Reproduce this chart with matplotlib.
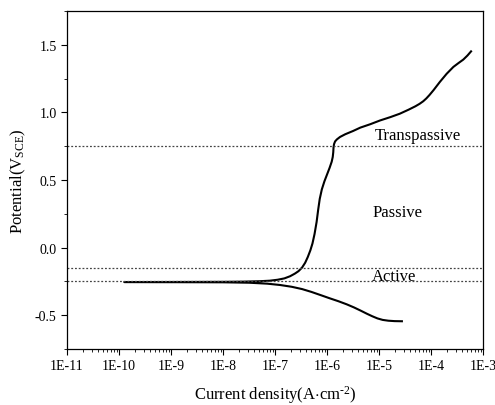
import numpy as np
import matplotlib
matplotlib.use("Agg")
import matplotlib.pyplot as plt
from matplotlib.ticker import LogLocator, MultipleLocator, NullFormatter, FormatStrFormatter

plt.rcParams['font.family'] = 'Liberation Serif'
plt.rcParams['mathtext.fontset'] = 'custom'
plt.rcParams['mathtext.rm'] = 'Liberation Serif'
plt.rcParams['mathtext.it'] = 'Liberation Serif:italic'
plt.rcParams['axes.unicode_minus'] = False

# cathodic branch, log10(i) vs E, from the far end back to Ecorr
cath_logi = [-4.56, -4.70, -4.82, -4.93, -5.03, -5.13, -5.23, -5.35, -5.48, -5.62,
             -5.78, -5.95, -6.12, -6.30, -6.48, -6.68, -6.9, -7.15, -7.5, -8.0,
             -9.0, -9.9]
cath_E = [-0.545, -0.544, -0.541, -0.535, -0.524, -0.508, -0.49, -0.467, -0.443, -0.42,
          -0.397, -0.375, -0.352, -0.328, -0.307, -0.29, -0.277, -0.267, -0.26, -0.257,
          -0.256, -0.255]
# anodic branch, from Ecorr upwards
anod_logi = [-9.9, -9.0, -8.0, -7.6, -7.3, -7.1, -6.95, -6.82, -6.71, -6.62,
             -6.55, -6.48, -6.42, -6.37, -6.32, -6.28, -6.24, -6.20, -6.17, -6.14,
             -6.10, -6.05, -6.00, -5.95, -5.91, -5.89, -5.88, -5.875, -5.865, -5.845,
             -5.81, -5.75, -5.65, -5.50, -5.36, -5.17, -4.98, -4.78, -4.60, -4.43,
             -4.30, -4.22, -4.15, -4.09, -4.03, -3.95, -3.83, -3.70, -3.57, -3.47,
             -3.38, -3.30, -3.23]
anod_E = [-0.255, -0.2545, -0.2535, -0.252, -0.249, -0.245, -0.238, -0.228, -0.212, -0.193,
          -0.175, -0.148, -0.112, -0.07, -0.02, 0.03, 0.10, 0.19, 0.28, 0.36,
          0.43, 0.49, 0.54, 0.59, 0.635, 0.67, 0.705, 0.74, 0.765, 0.785,
          0.80, 0.818, 0.838, 0.862, 0.887, 0.912, 0.94, 0.965, 0.99, 1.02,
          1.045, 1.063, 1.082, 1.103, 1.128, 1.165, 1.225, 1.285, 1.336, 1.365,
          1.39, 1.42, 1.451]

# region boundaries and names
boundaries = [0.75, -0.15, -0.25]
region_names = ['Transpassive', 'Passive', 'Active']
region_pos = [(5.5e-5, 0.832), (2.3e-5, 0.262), (1.95e-5, -0.207)]

xticks = [1e-11, 1e-10, 1e-9, 1e-8, 1e-7, 1e-6, 1e-5, 1e-4, 1e-3]
xticklabels = ['1E-11', '1E-10', '1E-9', '1E-8', '1E-7', '1E-6', '1E-5', '1E-4', '1E-3']

fig = plt.figure(figsize=(4.95, 4.06), dpi=100)
ax = fig.add_axes([0.1354, 0.138, 0.8404, 0.8326])

logi = np.array(cath_logi + anod_logi)
E = np.array(cath_E + anod_E)
ax.plot(10 ** logi, E, color='black', lw=1.5, solid_joinstyle='round')

for b in boundaries:
    ax.axhline(b, color='#444444', lw=0.9, ls=(0, (1.5, 1.5)))

for name, (x, y) in zip(region_names, region_pos):
    ax.text(x, y, name, ha='center', va='center', fontsize=12)

ax.set_xscale('log')
ax.set_xlim(1e-11, 1e-3)
ax.set_ylim(-0.75, 1.75)
ax.set_xticks(xticks)
ax.set_xticklabels(xticklabels)
ax.xaxis.set_minor_locator(LogLocator(base=10, subs=np.arange(2, 10), numticks=20))
ax.xaxis.set_minor_formatter(NullFormatter())
ax.yaxis.set_major_locator(MultipleLocator(0.5))
ax.yaxis.set_minor_locator(MultipleLocator(0.25))
ax.yaxis.set_major_formatter(FormatStrFormatter('%.1f'))

ax.tick_params(which='major', direction='out', length=4, width=0.8, labelsize=10,
               top=False, right=False)
ax.tick_params(which='minor', direction='out', length=2, width=0.6, top=False, right=False)
for s in ax.spines.values():
    s.set_linewidth(0.9)

ax.set_xlabel('Current density(A$\\cdot$cm$^{\\text{-2}}$)', fontsize=12, labelpad=8)
ax.set_ylabel('Potential(V$_{\\rm SCE}$)', fontsize=12, labelpad=5)

fig.savefig('out.png', dpi=100)
